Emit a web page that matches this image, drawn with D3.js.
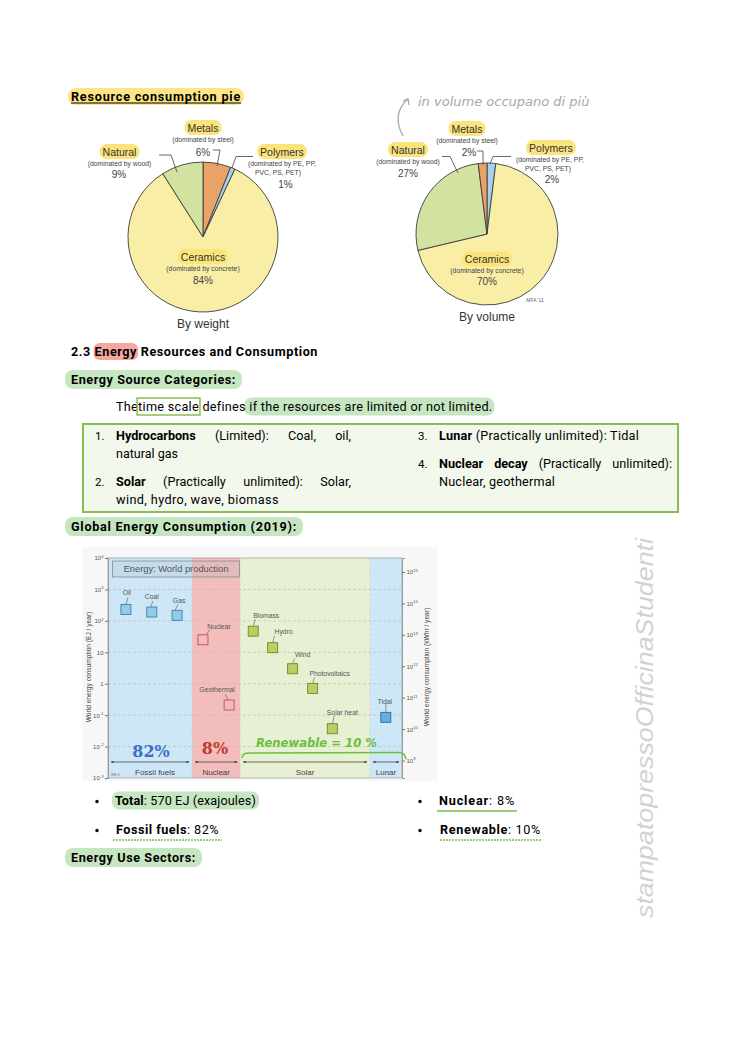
<!DOCTYPE html>
<html>
<head>
<meta charset="utf-8">
<script src="https://cdn.jsdelivr.net/npm/d3@7"></script>
<style>
  body { margin: 0; background: #fff; }
  svg { display: block; }
</style>
</head>
<body>
<svg width="744" height="1052"></svg>
<script>
/*
=============
Data
=============
*/

// resource consumption pies (percent)
var weightNames = ["Metals", "Polymers", "Ceramics", "Natural"];
var weightValues = [6, 1, 84, 9];
var volumeNames = ["Polymers", "Ceramics", "Natural", "Metals"];
var volumeValues = [2, 70, 27, 2];
var pieNotes = {
    "Metals": ["(dominated by steel)"],
    "Polymers": ["(dominated by PE, PP,", "PVC, PS, PET)"],
    "Ceramics": ["(dominated by concrete)"],
    "Natural": ["(dominated by wood)"]
};

// world energy production, EJ / year
var sources = ["Oil", "Coal", "Gas", "Nuclear", "Geothermal", "Biomass", "Hydro",
               "Wind", "Photovoltaics", "Solar heat", "Tidal"];
var sourceGroup = ["Fossil fuels", "Fossil fuels", "Fossil fuels", "Nuclear", "Nuclear",
                   "Solar", "Solar", "Solar", "Solar", "Solar", "Lunar"];
var sourcePos = [6.1, 14.9, 23.5, 32.3, 41.2, 49.4, 56, 62.8, 69.6, 76.3, 94.5];
var sourceEJ = [229, 191, 150, 25, 0.21, 47, 14, 3.0, 0.71, 0.037, 0.085];

var groups = ["Fossil fuels", "Nuclear", "Solar", "Lunar"];
var groupStart = [0, 28.6, 45, 89.1];
var groupEnd = [28.6, 45, 89.1, 100];

var leftTicks = [1e-3, 1e-2, 1e-1, 1, 10, 1e2, 1e3, 1e4];
var rightTicks = [1e9, 1e10, 1e11, 1e12, 1e13, 1e14, 1e15];
var EJ_TO_KWH = 2.778e11;

/*
=============
Styles
=============
*/
var bodyFont = "Roboto, 'Liberation Sans', sans-serif";
var figFont = "'Liberation Sans', Arial, sans-serif";

var sliceColor = {"Metals": "#e9a268", "Polymers": "#a9d0ea", "Ceramics": "#f9eea6", "Natural": "#d2e2a0"};
var groupColor = {"Fossil fuels": "#cde7f6", "Nuclear": "#f3bdbb", "Solar": "#e8f0d3", "Lunar": "#cde7f6"};
var markFill = {"Fossil fuels": "#93cbe9", "Nuclear": "#f5b8bd", "Solar": "#b8cf62", "Lunar": "#62afe0"};
var markStroke = {"Fossil fuels": "#3f7fa6", "Nuclear": "#b4535d", "Solar": "#6b8a26", "Lunar": "#2b6d9b"};

// label offsets from each marker: [dx, dy, leaderFromDx, leaderFromDy, leaderToDx]
var markLabel = [
    [1, -16.5, 2, -12, 0], [0, -15, 1, -11, -1], [2, -15, 1, -11, -2],
    [16, -13, 7, -10, 3], [-12, -15, -4, -11, -1], [13, -15.5, 2, -12, 0],
    [11, -15.5, 2, -12, 0], [10, -14, 2, -10, 0], [17, -14.5, 2, -11, 0],
    [10, -16, 2, -13, 0], [-1, -16, 0, -13, 0]
];

/*
=============
Helpers
=============
*/
var svg = d3.select("svg");

function addText(g, x, y, parts, o) {
    o = o || {};
    var t = g.append("text")
        .attr("x", x).attr("y", y)
        .attr("font-family", o.font || bodyFont)
        .attr("font-size", o.size || 11.5)
        .attr("fill", o.fill || "#000")
        .attr("text-anchor", o.anchor || "start");
    if (o.italic) t.attr("font-style", "italic");
    if (o.weight) t.attr("font-weight", o.weight);
    if (typeof parts === "string") parts = [[parts, o.bold]];
    parts.forEach(function (p) {
        t.append("tspan").text(p[0]).attr("font-weight", p[1] ? "bold" : null);
    });
    return t;
}

// grow the font a little, then spread letters (or words) to reach the target width
function fitWidth(t, target, mode) {
    var node = t.node();
    var size = +t.attr("font-size");
    var len = node.getComputedTextLength();
    var ns = Math.min(size * target / len, size * 1.1);
    if (mode !== "word") ns = Math.max(ns, size * 0.92);
    else ns = size * 1.1 < size * target / len ? size * 1.1 : ns;
    t.attr("font-size", ns);
    len = node.getComputedTextLength();
    var txt = node.textContent;
    if (mode === "word") {
        var n = txt.split(" ").length - 1;
        t.attr("word-spacing", (target - len) / n);
    } else {
        t.attr("letter-spacing", (target - len) / txt.length);
    }
    return t;
}

function highlight(t, color, px, py, rx, box) {
    var b = box || t.node().getBBox();
    t.node().parentNode.insertBefore(
        d3.create("svg:rect")
            .attr("x", b.x - px).attr("y", b.y - py)
            .attr("width", b.width + 2 * px).attr("height", b.height + 2 * py)
            .attr("rx", rx).attr("fill", color).node(),
        t.node());
}

/*
=============
Page text
=============
*/
var page = svg.append("g");

var title = addText(page, 71, 101, "Resource consumption pie", {bold: true});
fitWidth(title, 170);
highlight(title, "#fbe586", 3, 1, 8);
page.append("line").attr("x1", 71).attr("x2", 241).attr("y1", 103).attr("y2", 103)
    .attr("stroke", "#000").attr("stroke-width", 1);

var h23 = addText(page, 71, 356, [["2.3 ", true], ["Energy", true], [" Resources and Consumption", true]]);
fitWidth(h23, 247);
highlight(h23, "#f5a7a0", 1, 1, 6, h23.selectAll("tspan").nodes()[1].getBBox());

var hCat = addText(page, 71, 384, "Energy Source Categories:", {bold: true});
fitWidth(hCat, 165);
highlight(hCat, "#c6e6c1", 6, 2, 8);

var ts = addText(page, 116, 411, [["The", false], ["time scale", false], [" defines", false],
    [" if the resources are limited or not limited.", false]]);
fitWidth(ts, 376);
var tsp = ts.selectAll("tspan").nodes();
highlight(ts, "#c6e6c1", 2, 1.5, 8, tsp[3].getBBox());
var tb = tsp[1].getBBox();
page.append("rect").attr("x", tb.x - 1).attr("y", tb.y - 1)
    .attr("width", tb.width + 2).attr("height", tb.height + 2)
    .attr("fill", "none").attr("stroke", "#86bf4f").attr("stroke-width", 1.5);

// categories box
page.append("rect").attr("x", 83).attr("y", 424).attr("width", 595).attr("height", 88)
    .attr("fill", "#f2f8ec").attr("stroke", "#86bf4f").attr("stroke-width", 2);

addText(page, 95, 440, "1.");
fitWidth(addText(page, 116, 440, [["Hydrocarbons", true], [" (Limited): Coal, oil,", false]]), 235, "word");
fitWidth(addText(page, 116, 458, "natural gas"), 62);
addText(page, 95, 486, "2.");
fitWidth(addText(page, 116, 486, [["Solar", true], [" (Practically unlimited): Solar,", false]]), 235, "word");
fitWidth(addText(page, 116, 504, "wind, hydro, wave, biomass"), 163);
addText(page, 418, 440, "3.");
fitWidth(addText(page, 439, 440, [["Lunar", true], [" (Practically unlimited): Tidal", false]]), 200);
addText(page, 418, 468, "4.");
fitWidth(addText(page, 439, 468, [["Nuclear decay", true], [" (Practically unlimited):", false]]), 233, "word");
fitWidth(addText(page, 439, 486, "Nuclear, geothermal"), 116);

var hGlob = addText(page, 71, 531, "Global Energy Consumption (2019):", {bold: true});
fitWidth(hGlob, 226);
highlight(hGlob, "#c6e6c1", 6, 2, 8);

// bullets
[[97, 805], [97, 834], [420, 805], [420, 834]].forEach(function (p) {
    page.append("circle").attr("cx", p[0]).attr("cy", p[1] - 3.5).attr("r", 1.7).attr("fill", "#000");
});
var bTot = addText(page, 115, 805, [["Total", true], [": 570 EJ (exajoules)", false]]);
fitWidth(bTot, 141);
highlight(bTot, "#c6e6c1", 3, 1.5, 7);
var bFos = fitWidth(addText(page, 116, 834, [["Fossil fuels", true], [": 82%", false]]), 103);
var bNuc = fitWidth(addText(page, 439, 805, [["Nuclear", true], [": 8%", false]]), 76);
var bRen = fitWidth(addText(page, 440, 834, [["Renewable", true], [": 10%", false]]), 101);
[[437, 517, 811, null], [113, 222, 840, "2,1"], [440, 542, 840, "2,1"]].forEach(function (u) {
    page.append("line").attr("x1", u[0]).attr("x2", u[1]).attr("y1", u[2]).attr("y2", u[2])
        .attr("stroke", "#7dbb4e").attr("stroke-width", 1.6).attr("stroke-dasharray", u[3]);
});

var hUse = addText(page, 71, 862, "Energy Use Sectors:", {bold: true});
fitWidth(hUse, 125);
highlight(hUse, "#c6e6c1", 6, 2, 8);

// watermark
page.append("text")
    .attr("transform", "translate(653,728) rotate(-90)")
    .attr("text-anchor", "middle")
    .attr("font-family", figFont).attr("font-style", "italic").attr("font-size", 23)
    .attr("fill", "#d2d2d2")
    .attr("textLength", 380).attr("lengthAdjust", "spacingAndGlyphs")
    .text("stampatopressoOfficinaStudenti");

/*
=============
Pies
=============
*/
function drawPie(cx, cy, r, names, values, layout, caption, capY) {
    var g = svg.append("g").attr("transform", "translate(" + cx + "," + cy + ")");
    var pie = d3.pie().sort(null).value(function (d) { return d.v; });
    var arc = d3.arc().innerRadius(0).outerRadius(r);
    var rows = names.map(function (n, i) { return {name: n, v: values[i]}; });

    g.selectAll("path.slice")
        .data(pie(rows))
        .enter()
        .append("path")
        .attr("class", "slice")
        .attr("d", arc)
        .attr("fill", function (d) { return sliceColor[d.data.name]; })
        .attr("stroke", "#3c3c3c")
        .attr("stroke-width", 0.9)
        .attr("stroke-linejoin", "round");

    rows.forEach(function (d) {
        var L = layout[d.name];
        var nm = addText(g, L.x - cx, L.y - cy + 3.6, d.name,
            {font: figFont, size: 10.5, fill: "#333", anchor: "middle"});
        highlight(nm, "#fce47c", 3, 1.5, 7);
        pieNotes[d.name].forEach(function (line, k) {
            addText(g, (L.nx || L.x) - cx - (k ? L.shift || 0 : 0), L.y - cy + 13.5 + k * 9.5, line,
                {font: figFont, size: 6.8, fill: "#444", anchor: "middle"});
        });
        addText(g, L.px - cx, L.py - cy + 3.5, d.v + "%",
            {font: figFont, size: 10, fill: "#444", anchor: "middle"});
        g.append("path")
            .attr("d", d3.line()(L.lead.map(function (p) { return [p[0] - cx, p[1] - cy]; })))
            .attr("fill", "none").attr("stroke", "#444").attr("stroke-width", 0.8);
    });

    addText(svg, cx, capY, caption, {font: figFont, size: 12, fill: "#333", anchor: "middle"});
}

drawPie(203, 237, 75, weightNames, weightValues, {
    "Metals":   {x: 203, y: 128, px: 203, py: 152, lead: [[213, 150], [220, 150], [217, 166]]},
    "Natural":  {x: 119.5, y: 152, px: 119, py: 174, lead: [[159, 155], [171, 155], [177, 172]]},
    "Polymers": {x: 282, y: 152, px: 285.5, py: 184, shift: 4, lead: [[253, 156.5], [236, 156.5], [232, 168]]},
    "Ceramics": {x: 203, y: 257, px: 203, py: 280, lead: []}
}, "By weight", 328);

drawPie(487, 234, 71, volumeNames, volumeValues, {
    "Metals":   {x: 467, y: 129, px: 469, py: 152, lead: [[477, 151], [483, 151], [483, 165]]},
    "Natural":  {x: 408, y: 150, px: 408, py: 173.5, lead: [[442, 156.5], [450, 156.5], [458, 173]]},
    "Polymers": {x: 551, y: 148, nx: 550, px: 552, py: 179.5, shift: 2, lead: [[511, 156.5], [493, 156.5], [490, 164]]},
    "Ceramics": {x: 487, y: 259.5, px: 487, py: 281, lead: []}
}, "By volume", 321);

addText(svg, 535, 302, "MFA '11", {font: figFont, size: 5, fill: "#666", anchor: "middle"});

// handwritten note
addText(svg, 418, 106, "in volume occupano di più",
    {font: "'DejaVu Sans', sans-serif", size: 13, fill: "#a8a8a8", italic: true});
svg.append("path").attr("d", "M403,136 C395,122 397,108 408,99")
    .attr("fill", "none").attr("stroke", "#a8a8a8").attr("stroke-width", 1.3);
svg.append("path").attr("d", "M403,101 L408,99 L409,105")
    .attr("fill", "none").attr("stroke", "#a8a8a8").attr("stroke-width", 1.3);

/*
=============
Energy chart
=============
*/
var ch = svg.append("g");
ch.append("rect").attr("x", 82).attr("y", 547).attr("width", 355).attr("height", 234).attr("fill", "#f7f7f7");

var x = d3.scaleLinear().domain([0, 100]).range([108, 402]);
var y = d3.scaleLog().domain([1e-3, 1e4]).range([778, 558]);
var yK = d3.scaleLog().domain([1e-3 * EJ_TO_KWH, 1e4 * EJ_TO_KWH]).range([778, 558]);

// group bands
ch.selectAll("rect.band")
    .data(groups)
    .enter()
    .append("rect")
    .attr("class", "band")
    .attr("x", function (d, i) { return x(groupStart[i]); })
    .attr("width", function (d, i) { return x(groupEnd[i]) - x(groupStart[i]); })
    .attr("y", y(1e4))
    .attr("height", y(1e-3) - y(1e4))
    .attr("fill", function (d) { return groupColor[d]; });

// dashed grid
ch.selectAll("line.grid")
    .data(leftTicks.slice(1, -1))
    .enter()
    .append("line")
    .attr("x1", x(0)).attr("x2", x(100))
    .attr("y1", function (d) { return y(d); })
    .attr("y2", function (d) { return y(d); })
    .attr("stroke", "#b9b9b9").attr("stroke-width", 0.6).attr("stroke-dasharray", "3,2");
ch.selectAll("line.vgrid")
    .data(groupStart.slice(1))
    .enter()
    .append("line")
    .attr("x1", function (d) { return x(d); }).attr("x2", function (d) { return x(d); })
    .attr("y1", y(1e4)).attr("y2", y(1e-3))
    .attr("stroke", "#c4c4c4").attr("stroke-width", 0.5).attr("stroke-dasharray", "3,2");

ch.append("rect").attr("x", x(0)).attr("y", y(1e4))
    .attr("width", x(100) - x(0)).attr("height", y(1e-3) - y(1e4))
    .attr("fill", "none").attr("stroke", "#9a9a9a").attr("stroke-width", 0.7);

function supLabels(sel) {
    sel.selectAll(".tick text").each(function (d) {
        var t = d3.select(this).text("");
        var e = Math.round(Math.log10(d));
        if (e === 0) t.text("1");
        else if (e === 1) t.text("10");
        else {
            t.append("tspan").text("10");
            t.append("tspan").attr("dy", -2.5).attr("font-size", 4.2).text(e);
        }
    });
    sel.attr("font-size", 6).attr("font-family", figFont);
    sel.selectAll(".tick text").attr("fill", "#555");
    sel.selectAll(".tick line").attr("stroke", "#777");
    sel.select(".domain").attr("stroke", "#999");
}

var la = ch.append("g").attr("transform", "translate(" + x(0) + ",0)")
    .call(d3.axisLeft(y).tickValues(leftTicks).tickSize(3).tickPadding(1.5));
supLabels(la);
var ra = ch.append("g").attr("transform", "translate(" + x(100) + ",0)")
    .call(d3.axisRight(yK).tickValues(rightTicks).tickSize(3).tickPadding(1.5));
supLabels(ra);

addText(ch, 0, 0, "World energy consumption (EJ / year)",
    {font: figFont, size: 6.6, fill: "#444", anchor: "middle"})
    .attr("transform", "translate(91,667) rotate(-90)");
addText(ch, 0, 0, "World energy consumption (kWhr / year)",
    {font: figFont, size: 6.6, fill: "#444", anchor: "middle"})
    .attr("transform", "translate(429,667) rotate(-90)");

// legend box
ch.append("rect").attr("x", 112.5).attr("y", 561).attr("width", 127).attr("height", 16)
    .attr("fill", "rgba(170,180,195,0.22)").attr("stroke", "#8a8a8a").attr("stroke-width", 0.8);
addText(ch, 176, 572.3, "Energy: World production", {font: figFont, size: 9.3, fill: "#555", anchor: "middle"});

// markers
var pts = sources.map(function (s, i) {
    return {name: s, group: sourceGroup[i], pos: sourcePos[i], v: sourceEJ[i], lab: markLabel[i]};
});

ch.selectAll("line.lead")
    .data(pts)
    .enter()
    .append("line")
    .attr("x1", function (d) { return x(d.pos) + d.lab[2]; })
    .attr("y1", function (d) { return y(d.v) + d.lab[3]; })
    .attr("x2", function (d) { return x(d.pos) + d.lab[4]; })
    .attr("y2", function (d) { return y(d.v) - 5; })
    .attr("stroke", "#555").attr("stroke-width", 0.6);

ch.selectAll("rect.mark")
    .data(pts)
    .enter()
    .append("rect")
    .attr("class", "mark")
    .attr("x", function (d) { return x(d.pos) - 5; })
    .attr("y", function (d) { return y(d.v) - 5; })
    .attr("width", 10).attr("height", 10)
    .attr("fill", function (d) { return markFill[d.group]; })
    .attr("stroke", function (d) { return markStroke[d.group]; })
    .attr("stroke-width", 0.9);

ch.selectAll("text.mlab")
    .data(pts)
    .enter()
    .append("text")
    .attr("x", function (d) { return x(d.pos) + d.lab[0]; })
    .attr("y", function (d) { return y(d.v) + d.lab[1] + 2.3; })
    .attr("text-anchor", "middle")
    .attr("font-family", figFont).attr("font-size", 6.8).attr("fill", "#555")
    .text(function (d) { return d.name; });

// group arrows + names
var defs = svg.append("defs");
defs.append("marker").attr("id", "ah").attr("viewBox", "0 0 10 10")
    .attr("refX", 9).attr("refY", 5).attr("markerWidth", 5).attr("markerHeight", 4)
    .attr("orient", "auto-start-reverse")
    .append("path").attr("d", "M0,1 L10,5 L0,9 Z").attr("fill", "#333");

ch.selectAll("line.garrow")
    .data(groups)
    .enter()
    .append("line")
    .attr("x1", function (d, i) { return x(groupStart[i]) + 3; })
    .attr("x2", function (d, i) { return x(groupEnd[i]) - 3; })
    .attr("y1", 762).attr("y2", 762)
    .attr("stroke", "#333").attr("stroke-width", 0.7)
    .attr("marker-start", "url(#ah)").attr("marker-end", "url(#ah)");

ch.selectAll("text.gname")
    .data(groups)
    .enter()
    .append("text")
    .attr("x", function (d, i) { return (x(groupStart[i]) + x(groupEnd[i])) / 2 + (i === 0 ? 5 : 0); })
    .attr("y", 775)
    .attr("text-anchor", "middle")
    .attr("font-family", figFont).attr("font-size", 8).attr("fill", "#444")
    .text(function (d) { return d; });

addText(ch, 111, 776, "MFA '10", {font: figFont, size: 2.6, fill: "#777"});

// handwritten shares
addText(ch, 151, 757, "82%", {font: "'DejaVu Serif', serif", size: 16, fill: "#3d6fc4", bold: true, anchor: "middle"});
addText(ch, 215, 753.5, "8%", {font: "'DejaVu Serif', serif", size: 16, fill: "#c23a2e", bold: true, anchor: "middle"});
var ren = addText(ch, 256, 747, "Renewable = 10 %",
    {font: "'DejaVu Sans', sans-serif", size: 13, fill: "#6bbf3e", italic: true, weight: "bold"});
ren.attr("textLength", 121).attr("lengthAdjust", "spacingAndGlyphs");
ch.append("path")
    .attr("d", "M242,758 C243,753 245,753 250,753 L398,752.5 C403,752.5 405,754 406,759")
    .attr("fill", "none").attr("stroke", "#6bbf3e").attr("stroke-width", 1.6);
</script>
</body>
</html>
